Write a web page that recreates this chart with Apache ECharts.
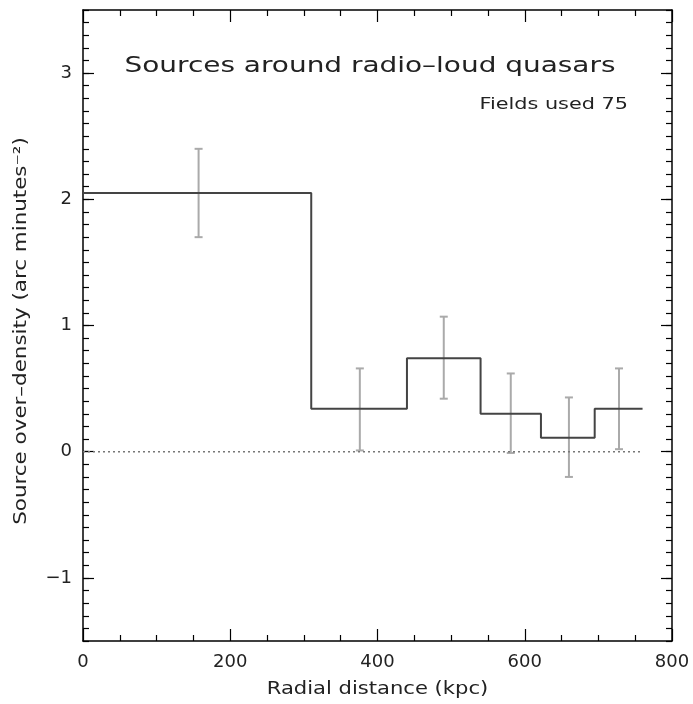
<!DOCTYPE html>
<html>
<head>
<meta charset="utf-8">
<script src="https://cdn.jsdelivr.net/npm/echarts@6/dist/echarts.min.js"></script>
<style>
html,body{margin:0;padding:0;background:#fff;}
#chart{width:693px;height:704px;}
</style>
</head>
<body>
<div id="chart"></div>
<script>
// Bin edges (kpc) and step values (over-density)
var binEdges = [0, 310, 440, 540, 622, 695, 760];
var binValues = [2.05, 0.34, 0.74, 0.30, 0.11, 0.34];
// Error bars: centres, lower and upper ends
var errX = [157, 376, 490, 581, 660, 728];
var errLow = [1.70, 0.01, 0.42, -0.01, -0.20, 0.02];
var errHigh = [2.40, 0.66, 1.07, 0.62, 0.43, 0.66];
// Axis ticks
var xTicks = [0, 200, 400, 600, 800];
var yMajor = [-1, 0, 1, 2, 3];
var titleText = 'Sources around radio\u2013loud quasars';
var subText = 'Fields used 75';
var xName = 'Radial distance (kpc)';
var yName = 'Source over\u2013density (arc minutes\u207B\u00B2)';

var stepData = [];
for (var i = 0; i < binValues.length; i++) stepData.push([binEdges[i], binValues[i]]);
stepData.push([binEdges[binEdges.length - 1], binValues[binValues.length - 1]]);
var zeroData = [[binEdges[0], 0], [binEdges[binEdges.length - 1], 0]];
var errData = errX.map(function (x, i) { return [x, errLow[i], errHigh[i]]; });

var FONT = 'DejaVu Sans';
var TXT = '#222';
var chart = echarts.init(document.getElementById('chart'), null, {renderer: 'canvas'});
var frame = {show: true, onZero: false, lineStyle: {color: '#000', width: 1.5}};
var noLine = {show: false, onZero: false};
var gridPos = {left: 83, top: 10, width: 589, height: 631};

function yAx(pos, major, withLabel) {
  var a = {
    type: 'value', position: pos, min: -1.5, max: 3.5,
    axisLine: major ? frame : noLine,
    splitLine: {show: false},
    axisTick: {show: true, inside: true, length: major ? 11 : 6, lineStyle: {color: '#000', width: 1.2}},
    axisLabel: {show: false}
  };
  if (major) {
    a.axisTick.customValues = yMajor;
    a.axisLabel = {show: withLabel, customValues: yMajor, margin: 11, fontFamily: FONT, fontSize: 18, color: TXT,
      formatter: function (v) { return String(v).replace('-', '\u2212'); }};
  } else {
    a.interval = 0.1;
  }
  return a;
}
function xAx(pos, withLabel) {
  return {
    type: 'value', position: pos, min: 0, max: 800, interval: 200,
    axisLine: frame, splitLine: {show: false},
    axisTick: {show: true, inside: true, length: 12, lineStyle: {color: '#000', width: 1.2}},
    minorTick: {show: true, splitNumber: 4, length: 6, lineStyle: {color: '#000', width: 1.2}},
    axisLabel: {show: withLabel, margin: 12, fontFamily: FONT, fontSize: 18, color: TXT,
      customValues: xTicks}
  };
}

chart.setOption({
  animation: false,
  backgroundColor: '#fff',
  grid: gridPos,
  xAxis: [xAx('bottom', true), xAx('top', false)],
  yAxis: [yAx('left', true, true), yAx('left', false), yAx('right', true, false), yAx('right', false)],
  graphic: [
    {type: 'text', x: 370, y: 67, scaleX: 1.33, style: {text: titleText, x: 0, y: 0, align: 'center', verticalAlign: 'middle',
      fontFamily: FONT, fontSize: 21, fill: '#222'}},
    {type: 'text', x: 628, y: 105, scaleX: 1.3, style: {text: subText, x: 0, y: 0, align: 'right', verticalAlign: 'middle',
      fontFamily: FONT, fontSize: 16, fill: '#222'}},
    {type: 'text', x: 377.5, y: 690, scaleX: 1.24, style: {text: xName, x: 0, y: 0, align: 'center', verticalAlign: 'middle',
      fontFamily: FONT, fontSize: 17, fill: '#222'}},
    {type: 'text', rotation: Math.PI / 2, x: 22, y: 331, scaleX: 1.26, style: {text: yName, x: 0, y: 0, align: 'center', verticalAlign: 'middle',
      fontFamily: FONT, fontSize: 17, fill: '#222'}}
  ],
  series: [
    {type: 'line', xAxisIndex: 0, yAxisIndex: 0, data: zeroData, symbol: 'none', silent: true,
      lineStyle: {color: '#777', width: 1.5, type: [2, 3]}},
    {type: 'custom', xAxisIndex: 0, yAxisIndex: 0, data: errData, silent: true,
      renderItem: function (params, api) {
        var x = api.value(0);
        var lo = api.coord([x, api.value(1)]);
        var hi = api.coord([x, api.value(2)]);
        var st = {stroke: '#aaa', lineWidth: 2};
        return {type: 'group', children: [
          {type: 'line', shape: {x1: lo[0], y1: lo[1], x2: hi[0], y2: hi[1]}, style: st},
          {type: 'line', shape: {x1: lo[0] - 4, y1: lo[1], x2: lo[0] + 4, y2: lo[1]}, style: st},
          {type: 'line', shape: {x1: hi[0] - 4, y1: hi[1], x2: hi[0] + 4, y2: hi[1]}, style: st}
        ]};
      }},
    {type: 'line', xAxisIndex: 0, yAxisIndex: 0, data: stepData, step: 'end', symbol: 'none', silent: true,
      lineStyle: {color: '#444', width: 2}}
  ]
});
</script>
</body>
</html>
